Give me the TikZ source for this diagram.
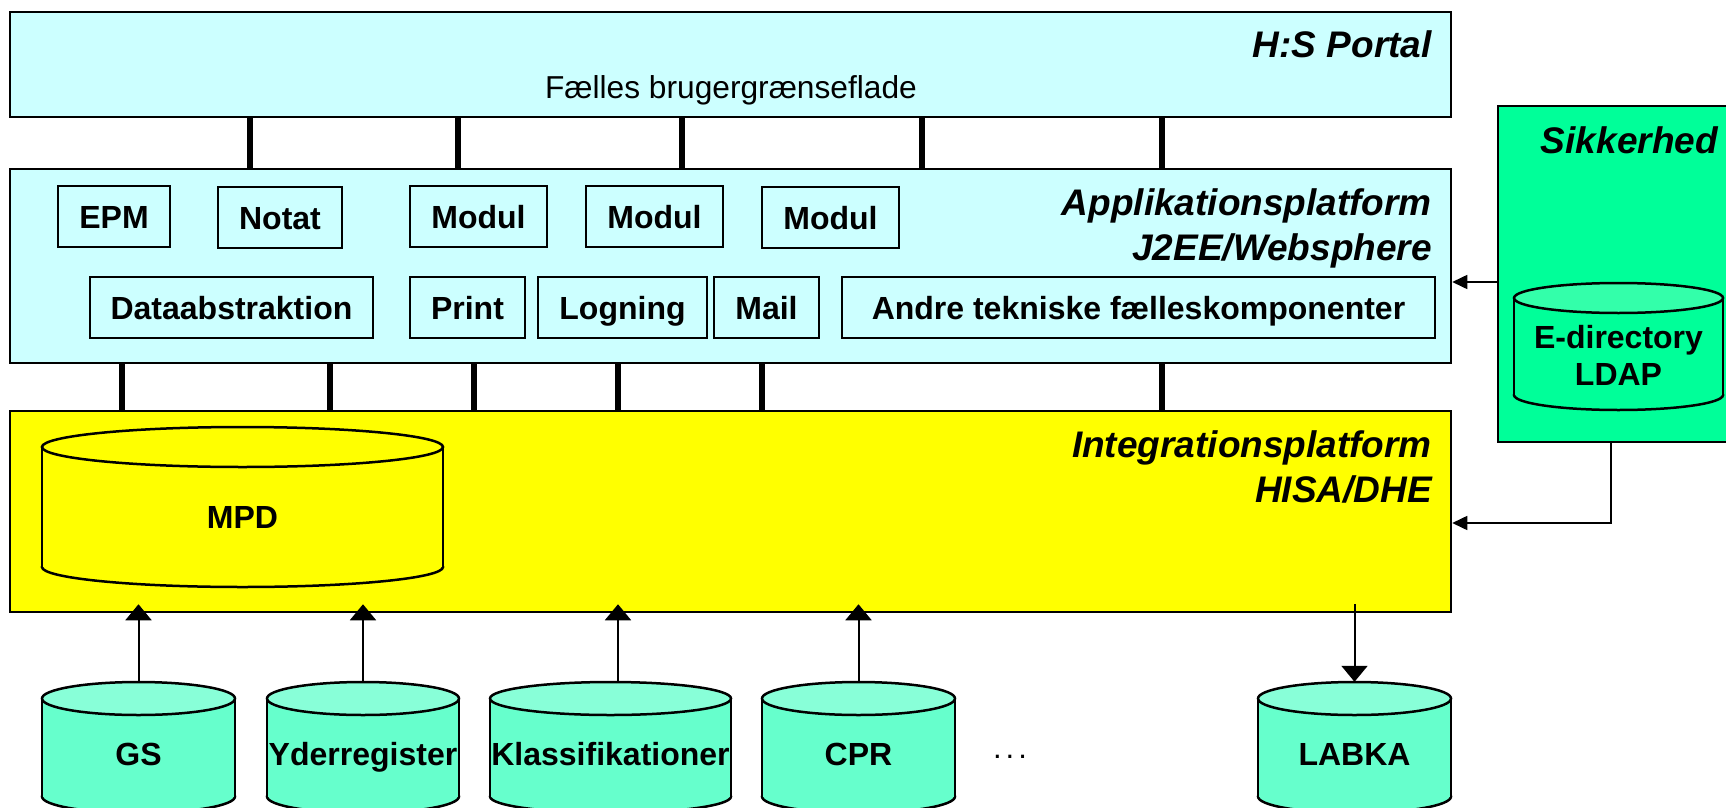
\documentclass[tikz,border=0pt]{standalone}
\usepackage{fontspec}
\setmainfont{Liberation Sans}
\usetikzlibrary{arrows.meta}
\definecolor{cyanfill}{HTML}{CCFFFF}
\definecolor{yellowfill}{HTML}{FFFF00}
\definecolor{secgreen}{HTML}{00FF99}
\definecolor{secgreentop}{HTML}{33FFAA}
\definecolor{dbbody}{HTML}{66FFCC}
\definecolor{dbtop}{HTML}{88FFD8}
% #1 name, #2 x left, #3 x right, #4 y top, #5 y bottom, #6 ellipse ry, #7 body colour, #8 top colour
\newcommand\dbcyl[8]{%
  \pgfmathsetmacro\cylcx{(#2+#3)/2}%
  \pgfmathsetmacro\cylrx{(#3-#2)/2}%
  \pgfmathsetmacro\cylyt{#4+#6}%
  \pgfmathsetmacro\cylyb{#5-#6}%
  \pgfmathsetmacro\cylcy{(#4+#5)/2}%
  \filldraw[cylline, fill=#7] (\cylcx,\cylyb) ellipse [x radius=\cylrx, y radius=#6];
  \fill[#7] (#2,\cylyt) rectangle (#3,\cylyb);
  \draw[cylline] (#2,\cylyt) -- (#2,\cylyb) (#3,\cylyt) -- (#3,\cylyb);
  \filldraw[cylline, fill=#8] (\cylcx,\cylyt) ellipse [x radius=\cylrx, y radius=#6];
  \node[inner sep=0pt, minimum width={(#3-#2)*1pt}, minimum height={(#5-#4)*1pt}] (#1) at (\cylcx,\cylcy) {};
}
\begin{document}
\begin{tikzpicture}[x=1pt, y=-1pt,
  layer/.style={draw=black, line width=2.5pt, inner sep=0pt, rectangle},
  comp/.style={draw=black, line width=2pt, fill=cyanfill, inner sep=0pt,
    font=\fontsize{32}{38}\selectfont\bfseries, text height=23pt, text depth=0pt},
  lbl/.style={font=\fontsize{32}{38}\selectfont\bfseries, inner sep=0pt, text height=23pt, text depth=0pt},
  title/.style={font=\fontsize{37}{45}\selectfont\bfseries\itshape, inner sep=0pt, anchor=base east},
  tick/.style={line width=6pt, draw=black},
  uparr/.style={line width=2pt, draw=black, -{Triangle[width=26pt,length=16pt]}},
  secarr/.style={line width=1.6pt, draw=black, -{Triangle[width=14pt,length=15pt]}},
  cylline/.style={line width=2.5pt, draw=black}]
\useasboundingbox (0,0) rectangle (1726,808);

% layers
\node[layer, fill=cyanfill, minimum width=1441pt, minimum height=105pt] (portal) at (730.5,64.5) {};
\node[layer, fill=cyanfill, minimum width=1441pt, minimum height=194pt] (app) at (730.5,266) {};
\node[layer, fill=yellowfill, minimum width=1441pt, minimum height=201pt] (integ) at (730.5,511.5) {};
\node[layer, fill=secgreen, minimum width=242pt, minimum height=336pt] (sik) at (1619,274) {};

% titles
\node[title] (portaltitle) at (1432,58) {H:S Portal};
\node[font=\fontsize{31.7}{37}\selectfont, inner sep=0pt, anchor=base] (portalsub) at (731,98) {Fælles brugergrænseflade};
\node[title] (apptitle1) at (1432,215) {Applikationsplatform};
\node[title] (apptitle2) at (1432,260) {J2EE/Websphere};
\node[title] (integtitle1) at (1432,457) {Integrationsplatform};
\node[title] (integtitle2) at (1432,502) {HISA/DHE};
\node[title] (siktitle) at (1718,153) {Sikkerhed};

% ticks portal - app
\foreach \x in {250,458,682,922,1162} {
  \coordinate (tc) at (\x,0);
  \draw[tick] (portal.south -| tc) -- (app.north -| tc);
}
% ticks app - integration
\foreach \x in {122,330,474,618,762,1162} {
  \coordinate (tc) at (\x,0);
  \draw[tick] (app.south -| tc) -- (integ.north -| tc);
}

% components
\node[comp, minimum width=112pt, minimum height=61pt] (epm) at (114,216.5) {EPM};
\node[comp, minimum width=124pt, minimum height=61pt] (notat) at (280,217.5) {Notat};
\node[comp, minimum width=137pt, minimum height=61pt] (modul1) at (478.5,216.5) {Modul};
\node[comp, minimum width=137pt, minimum height=61pt] (modul2) at (654.5,216.5) {Modul};
\node[comp, minimum width=137pt, minimum height=61pt] (modul3) at (830.5,217.5) {Modul};
\node[comp, minimum width=283pt, minimum height=61pt] (dataabs) at (231.5,307.5) {Dataabstraktion};
\node[comp, minimum width=115pt, minimum height=61pt] (print) at (467.5,307.5) {Print};
\node[comp, minimum width=169pt, minimum height=61pt] (logning) at (622.5,307.5) {Logning};
\node[comp, minimum width=105pt, minimum height=61pt] (mail) at (766.5,307.5) {Mail};
\node[comp, minimum width=593pt, minimum height=61pt] (andre) at (1138.5,307.5) {Andre tekniske fælleskomponenter};

% databases
\dbcyl{mpd}{42}{443}{427}{587}{20}{yellowfill}{yellowfill}
\node[lbl] (mpdl) at (242.5,517) {MPD};
\dbcyl{edir}{1514}{1723}{283}{410}{15}{secgreen}{secgreentop}
\node[font=\fontsize{32}{37}\selectfont\bfseries, inner sep=0pt, align=center] (edirl) at (1618.5,355) {E-directory\\LDAP};

\dbcyl{gs}{42}{235}{682}{813}{16.5}{dbbody}{dbtop}
\dbcyl{yder}{267}{459}{682}{813}{16.5}{dbbody}{dbtop}
\dbcyl{klass}{490}{731}{682}{813}{16.5}{dbbody}{dbtop}
\dbcyl{cpr}{762}{955}{682}{813}{16.5}{dbbody}{dbtop}
\dbcyl{labka}{1258}{1451}{682}{813}{16.5}{dbbody}{dbtop}
\node[lbl] (gsl) at (138.5,754) {GS};
\node[lbl] (yderl) at (363,754) {Yderregister};
\node[lbl] (klassl) at (610.5,754) {Klassifikationer};
\node[lbl] (cprl) at (858.5,754) {CPR};
\node[lbl] (labkal) at (1354.5,754) {LABKA};
\node[font=\fontsize{31}{37}\selectfont, inner sep=0pt, anchor=base] (dots) at (1010,758) {.\hspace{4pt}.\hspace{4pt}.};

% arrows into integration platform
\draw[uparr, shorten >=-9pt] (gs.north) -- (gs.north |- integ.south);
\draw[uparr, shorten >=-9pt] (yder.north) -- (yder.north |- integ.south);
\coordinate (kx) at (618,0);
\draw[uparr, shorten >=-9pt] (klass.north -| kx) -- (kx |- integ.south);
\draw[uparr, shorten >=-9pt] (cpr.north) -- (cpr.north |- integ.south);
\draw[uparr, shorten <=-9pt] (labka.north |- integ.south) -- (labka.north);

% security arrows
\coordinate (s1) at (0,282);
\draw[secarr] (sik.west |- s1) -- (app.east |- s1);
\coordinate (s2) at (1611,523);
\draw[secarr] (s2 |- sik.south) -- (s2) -- (integ.east |- s2);
\end{tikzpicture}
\end{document}
